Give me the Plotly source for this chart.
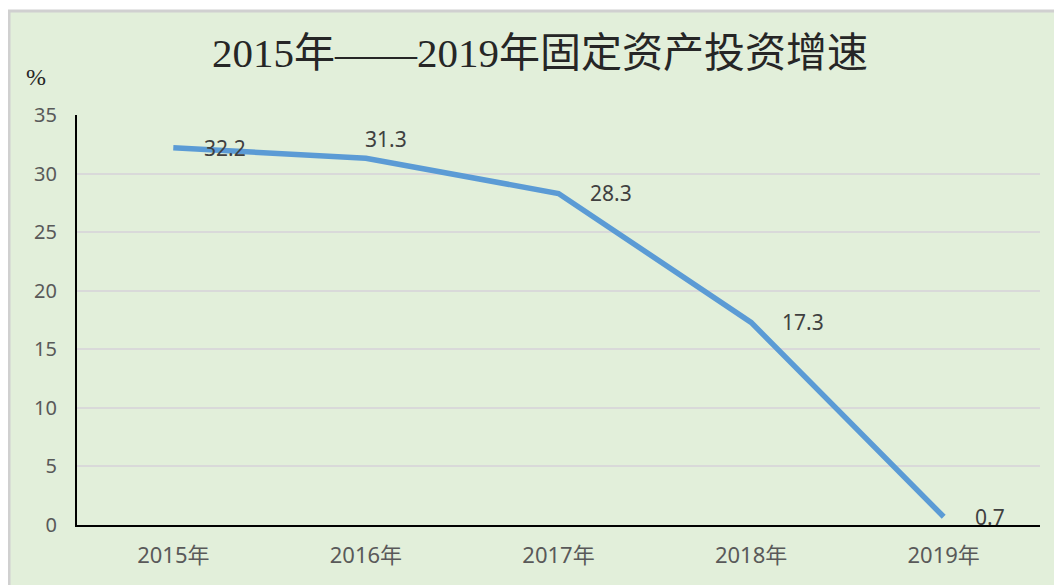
import plotly.graph_objects as go

years = ["2015年", "2016年", "2017年", "2018年", "2019年"]
growth = [32.2, 31.3, 28.3, 17.3, 0.7]
label_pos = ["right", "above", "right", "right", "right"]
title_text = "2015年——2019年固定资产投资增速"
y_ticks = [0, 5, 10, 15, 20, 25, 30, 35]

# The page body has an 8px margin; target screen pixel positions are offset by OFF.
OFF = 8
W, H = 1062, 585
L = 77 - OFF
T = 115 - OFF
R = W - (1040 - OFF)
B = H - (525 - OFF)
pw, ph = W - L - R, H - T - B

def px_to_paper_x(sx):
    return (sx - OFF - L) / pw

def px_to_paper_y(sy):
    return (H - B - (sy - OFF)) / ph

fig = go.Figure()
fig.add_trace(go.Scatter(
    x=years, y=growth, mode="lines",
    line=dict(color="#5B9BD5", width=5.5),
    hoverinfo="skip", showlegend=False,
))

for yr, v, p in zip(years, growth, label_pos):
    if p == "above":
        xs, ys = -3, 19
    else:
        xs, ys = 29, 0
    fig.add_annotation(x=yr, y=v, text=f"{v}", showarrow=False,
                       xanchor="left", yanchor="middle", xshift=xs, yshift=ys,
                       font=dict(family="Noto Sans, sans-serif", size=21, color="#404040"))

# background panel
fig.add_shape(type="rect", xref="paper", yref="paper",
              x0=px_to_paper_x(9), x1=px_to_paper_x(1090),
              y0=px_to_paper_y(620), y1=px_to_paper_y(11),
              fillcolor="#E2EFDA", line=dict(color="#D0D0D0", width=3), layer="below")

fig.add_annotation(xref="paper", yref="paper", x=px_to_paper_x(36), y=px_to_paper_y(77),
                   xanchor="center", yanchor="middle",
                   text="%", showarrow=False,
                   font=dict(family="Liberation Serif, Noto Sans CJK SC", size=24, color="#262626"))

fig.update_layout(
    width=W, height=H,
    margin=dict(l=L, r=R, t=T, b=B),
    paper_bgcolor="white",
    plot_bgcolor="rgba(0,0,0,0)",
    title=dict(text=title_text, x=(540 - OFF) / W, xanchor="center",
               y=1 - (53 - OFF) / H, yanchor="middle",
               font=dict(family="Liberation Serif, Noto Sans CJK SC", size=41, color="#262626")),
    xaxis=dict(showline=True, linecolor="black", linewidth=2, showgrid=False,
               ticks="", range=[-0.5, 4.5], automargin=False,
               tickfont=dict(family="Noto Sans, Noto Sans CJK SC", size=22, color="#595959"),
               ticklabelstandoff=10),
    yaxis=dict(showline=True, linecolor="black", linewidth=2, range=[0, 35],
               tickvals=y_ticks, showgrid=True, gridcolor="#D9D9D9", gridwidth=1.5,
               zeroline=False, ticks="", automargin=False,
               tickfont=dict(family="Noto Sans, sans-serif", size=20, color="#595959"),
               ticklabelstandoff=14),
)

fig.write_html("out.html")
